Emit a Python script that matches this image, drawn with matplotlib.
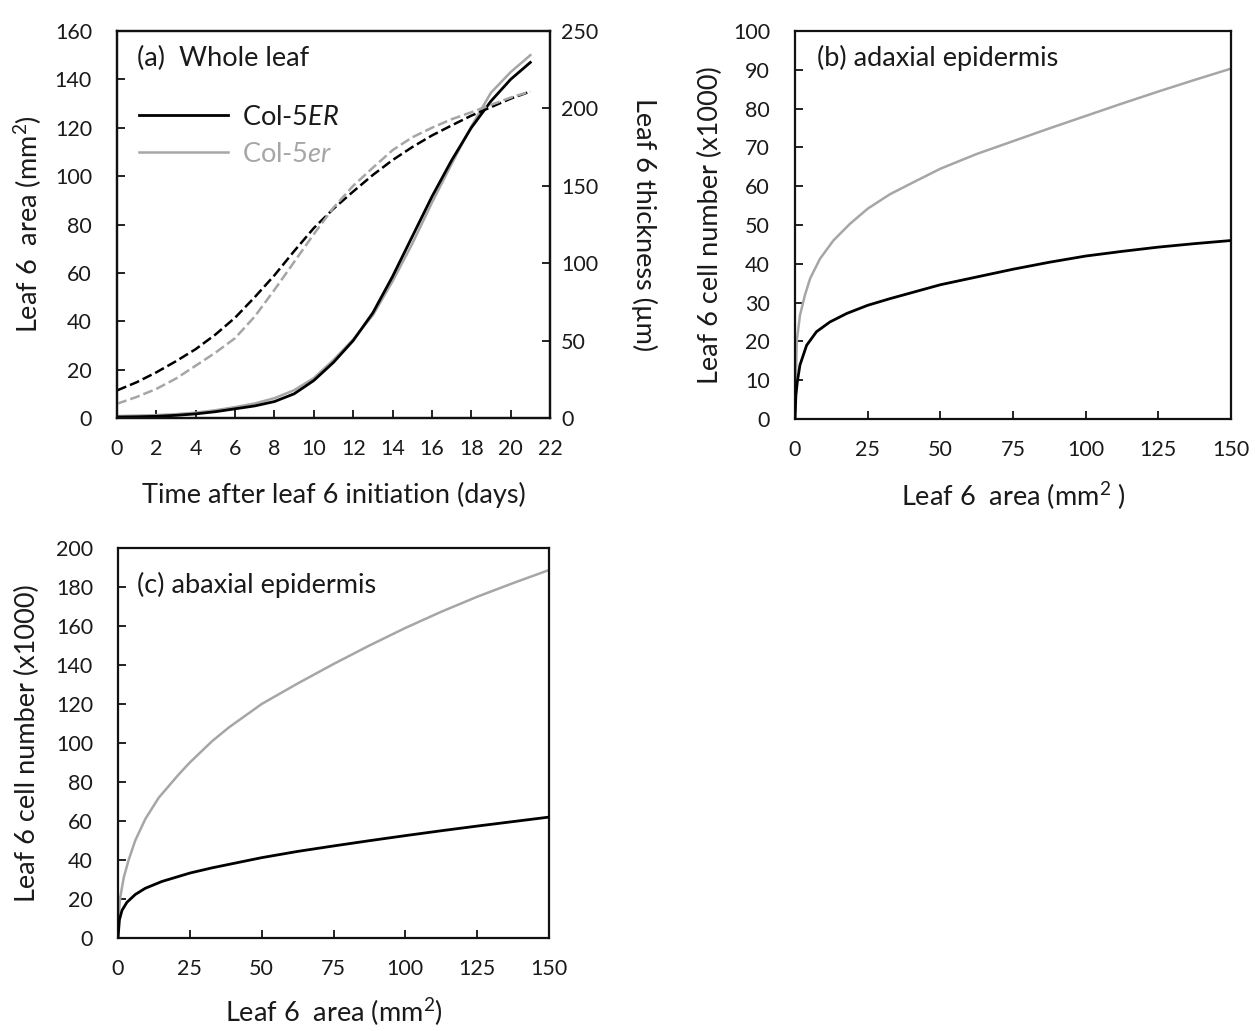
import matplotlib
matplotlib.use('Agg')
import matplotlib.pyplot as plt

plt.rcParams['font.family'] = ['Lato', 'DejaVu Sans']
plt.rcParams['mathtext.fontset'] = 'custom'
plt.rcParams['mathtext.rm'] = 'Lato'
plt.rcParams['mathtext.it'] = 'Lato:italic'
plt.rcParams['mathtext.default'] = 'regular'

# ---------------- data ----------------
days = list(range(0, 22))
area_ER = [0.4, 0.5, 0.7, 1.1, 1.7, 2.6, 3.8, 5.0, 6.8, 10, 15.5, 23, 32, 43.5,
           58.5, 75, 91.5, 106.5, 120, 131, 140, 147]
area_er = [0.8, 1.0, 1.2, 1.6, 2.2, 3.2, 4.5, 6.0, 8.2, 11.5, 16.5, 24, 32.5, 42.5,
           56.5, 72, 89, 105, 120.5, 134.5, 143, 150]
thick_ER = [17.8, 23.1, 29.5, 36.7, 44.5, 53.9, 64.8, 78.1, 92.2, 107.8, 122.7, 135.2,
            146.3, 157, 166.6, 175, 182.5, 189, 195.3, 200.8, 206.3, 210.9]
thick_er = [9.2, 13.6, 18.8, 25.5, 33.8, 42.2, 51.6, 65.6, 82.8, 100.8, 118.8, 135.9,
            150, 161.7, 173, 181.3, 187.5, 193, 197.5, 202.3, 207, 210.9]

b_area_ER = [0, 0.3, 0.8, 1.7, 4, 7.4, 12, 17.8, 25, 32.6, 50, 62.5, 75, 87.5,
             100, 112.5, 125, 137.5, 150]
b_cells_ER = [0, 6, 9.6, 13.9, 19, 22.5, 25, 27.2, 29.3, 31, 34.6, 36.6, 38.6, 40.4,
              42, 43.2, 44.3, 45.2, 46]
b_area_er = [0, 0.6, 1.7, 3.4, 5.2, 8.6, 13.2, 18.9, 25, 32.6, 40.7, 50, 62.5, 75,
             87.5, 100, 112.5, 125, 137.5, 150]
b_cells_er = [0, 20, 26.7, 31.9, 36.2, 41.3, 46, 50.3, 54.2, 57.9, 61.0, 64.5, 68.3,
              71.6, 74.9, 78.1, 81.3, 84.4, 87.4, 90.3]

c_area_ER = [0, 0.5, 1.4, 3.1, 6, 9.5, 15.3, 25, 32.8, 50, 62.5, 75, 87.5, 100,
             112.5, 125, 137.5, 150]
c_cells_ER = [0, 9.4, 14.2, 18.3, 22.3, 25.5, 29, 33.3, 36, 41.2, 44.4, 47.2, 49.9,
              52.5, 55.0, 57.4, 59.7, 62]
c_area_er = [0, 0.2, 0.8, 2, 3.7, 6, 9.5, 14.2, 21.2, 25, 32.8, 38.6, 50, 62.5, 75,
             87.5, 100, 112.5, 125, 137.5, 150]
c_cells_er = [0, 12, 21, 31, 40, 50, 61, 72, 84, 90, 101, 108, 120, 130.5, 140.5,
              150, 159, 167.3, 175, 182, 188.7]

a_xticks = list(range(0, 23, 2))
a_yticks = list(range(0, 161, 20))
a_y2ticks = list(range(0, 251, 50))
bc_xticks = [0, 25, 50, 75, 100, 125, 150]
b_yticks = list(range(0, 101, 10))
c_yticks = list(range(0, 201, 20))

# ---------------- style ----------------
W, H = 1255, 1031
BLACK = '#000000'
GRAY = '#a6a6a6'
TXT = '#1a1a1a'
TICK_FS = 15.5
LAB_FS = 19.5

fig = plt.figure(figsize=(12.55, 10.31), dpi=100)


def box(l, r, t, b):
    return [l / W, 1 - b / H, (r - l) / W, (b - t) / H]


def style(ax, left=True, right=False, bottom=True, ypad=18):
    for s in ax.spines.values():
        s.set_linewidth(1.6)
        s.set_color('#111111')
    ax.tick_params(axis='x', direction='in', length=6, width=1.3, pad=15,
                   labelsize=TICK_FS, colors='#111111', labelcolor=TXT,
                   top=False, bottom=bottom)
    ax.tick_params(axis='y', direction='in', length=6, width=1.3, pad=ypad,
                   labelsize=TICK_FS, colors='#111111', labelcolor=TXT,
                   left=left, right=right, labelleft=left, labelright=right)


# ---------- panel (a) ----------
ax_a = fig.add_axes(box(117, 550, 31, 418))
ax_a.plot(days, area_ER, color=BLACK, lw=2.0, label='Col-5$\\mathit{ER}$', zorder=3)
ax_a.plot(days, area_er, color=GRAY, lw=1.8, label='Col-5$\\mathit{er}$', zorder=2)
ax_a.set_xlim(0, 22)
ax_a.set_ylim(0, 160)
ax_a.set_xticks(a_xticks)
ax_a.set_yticks(a_yticks)
style(ax_a)
ax_a.set_ylabel('Leaf 6  area (mm$^2$)', fontsize=LAB_FS, color=TXT)
ax_a.yaxis.set_label_coords(-0.205, 0.5)
ax_a.yaxis.label.set_va('center')
ax_a.set_xlabel('Time after leaf 6 initiation (days)', fontsize=LAB_FS, color=TXT)
ax_a.xaxis.set_label_coords(0.5, -0.2)
ax_a.xaxis.label.set_va('center')
ax_a.text(0.046, 0.93, '(a)  Whole leaf', transform=ax_a.transAxes,
          fontsize=LAB_FS, color=TXT, ha='left', va='center')
leg = ax_a.legend(loc='upper left', bbox_to_anchor=(0.051, 0.81), frameon=False,
                  fontsize=LAB_FS, handlelength=3.3, handletextpad=0.5,
                  labelspacing=0.45, borderpad=0, borderaxespad=0)
leg.get_texts()[0].set_color(TXT)
leg.get_texts()[1].set_color(GRAY)

ax2 = ax_a.twinx()
ax2.plot(days, thick_ER, color=BLACK, lw=1.8, ls=(0, (4, 1.6)))
ax2.plot(days, thick_er, color=GRAY, lw=1.8, ls=(0, (4, 1.6)))
ax2.set_ylim(0, 250)
ax2.set_yticks(a_y2ticks)
style(ax2, left=False, right=True, bottom=False, ypad=8)
ax2.set_ylabel('Leaf 6 thickness (µm)', fontsize=LAB_FS, color=TXT, rotation=270)
ax2.yaxis.set_label_coords(1.217, 0.5)
ax2.yaxis.label.set_va('center')
ax2.yaxis.label.set_ha('center')

# ---------- panel (b) ----------
ax_b = fig.add_axes(box(795, 1231, 31, 419))
ax_b.plot(b_area_ER, b_cells_ER, color=BLACK, lw=2.0, zorder=3)
ax_b.plot(b_area_er, b_cells_er, color=GRAY, lw=1.8, zorder=2)
ax_b.set_xlim(0, 150)
ax_b.set_ylim(0, 100)
ax_b.set_xticks(bc_xticks)
ax_b.set_yticks(b_yticks)
style(ax_b)
ax_b.set_ylabel('Leaf 6 cell number (x1000)', fontsize=LAB_FS, color=TXT)
ax_b.yaxis.set_label_coords(-0.195, 0.5)
ax_b.yaxis.label.set_va('center')
ax_b.set_xlabel('Leaf 6  area (mm$^2$ )', fontsize=LAB_FS, color=TXT)
ax_b.xaxis.set_label_coords(0.5, -0.2)
ax_b.xaxis.label.set_va('center')
ax_b.text(0.05, 0.93, '(b) adaxial epidermis', transform=ax_b.transAxes,
          fontsize=LAB_FS, color=TXT, ha='left', va='center')

# ---------- panel (c) ----------
ax_c = fig.add_axes(box(118, 549, 548, 938))
ax_c.plot(c_area_ER, c_cells_ER, color=BLACK, lw=2.0, zorder=3)
ax_c.plot(c_area_er, c_cells_er, color=GRAY, lw=1.8, zorder=2)
ax_c.set_xlim(0, 150)
ax_c.set_ylim(0, 200)
ax_c.set_xticks(bc_xticks)
ax_c.set_yticks(c_yticks)
style(ax_c)
ax_c.set_ylabel('Leaf 6 cell number (x1000)', fontsize=LAB_FS, color=TXT)
ax_c.yaxis.set_label_coords(-0.211, 0.5)
ax_c.yaxis.label.set_va('center')
ax_c.set_xlabel('Leaf 6  area (mm$^2$)', fontsize=LAB_FS, color=TXT)
ax_c.xaxis.set_label_coords(0.5, -0.19)
ax_c.xaxis.label.set_va('center')
ax_c.text(0.044, 0.905, '(c) abaxial epidermis', transform=ax_c.transAxes,
          fontsize=LAB_FS, color=TXT, ha='left', va='center')

fig.savefig('out.png', dpi=100)
